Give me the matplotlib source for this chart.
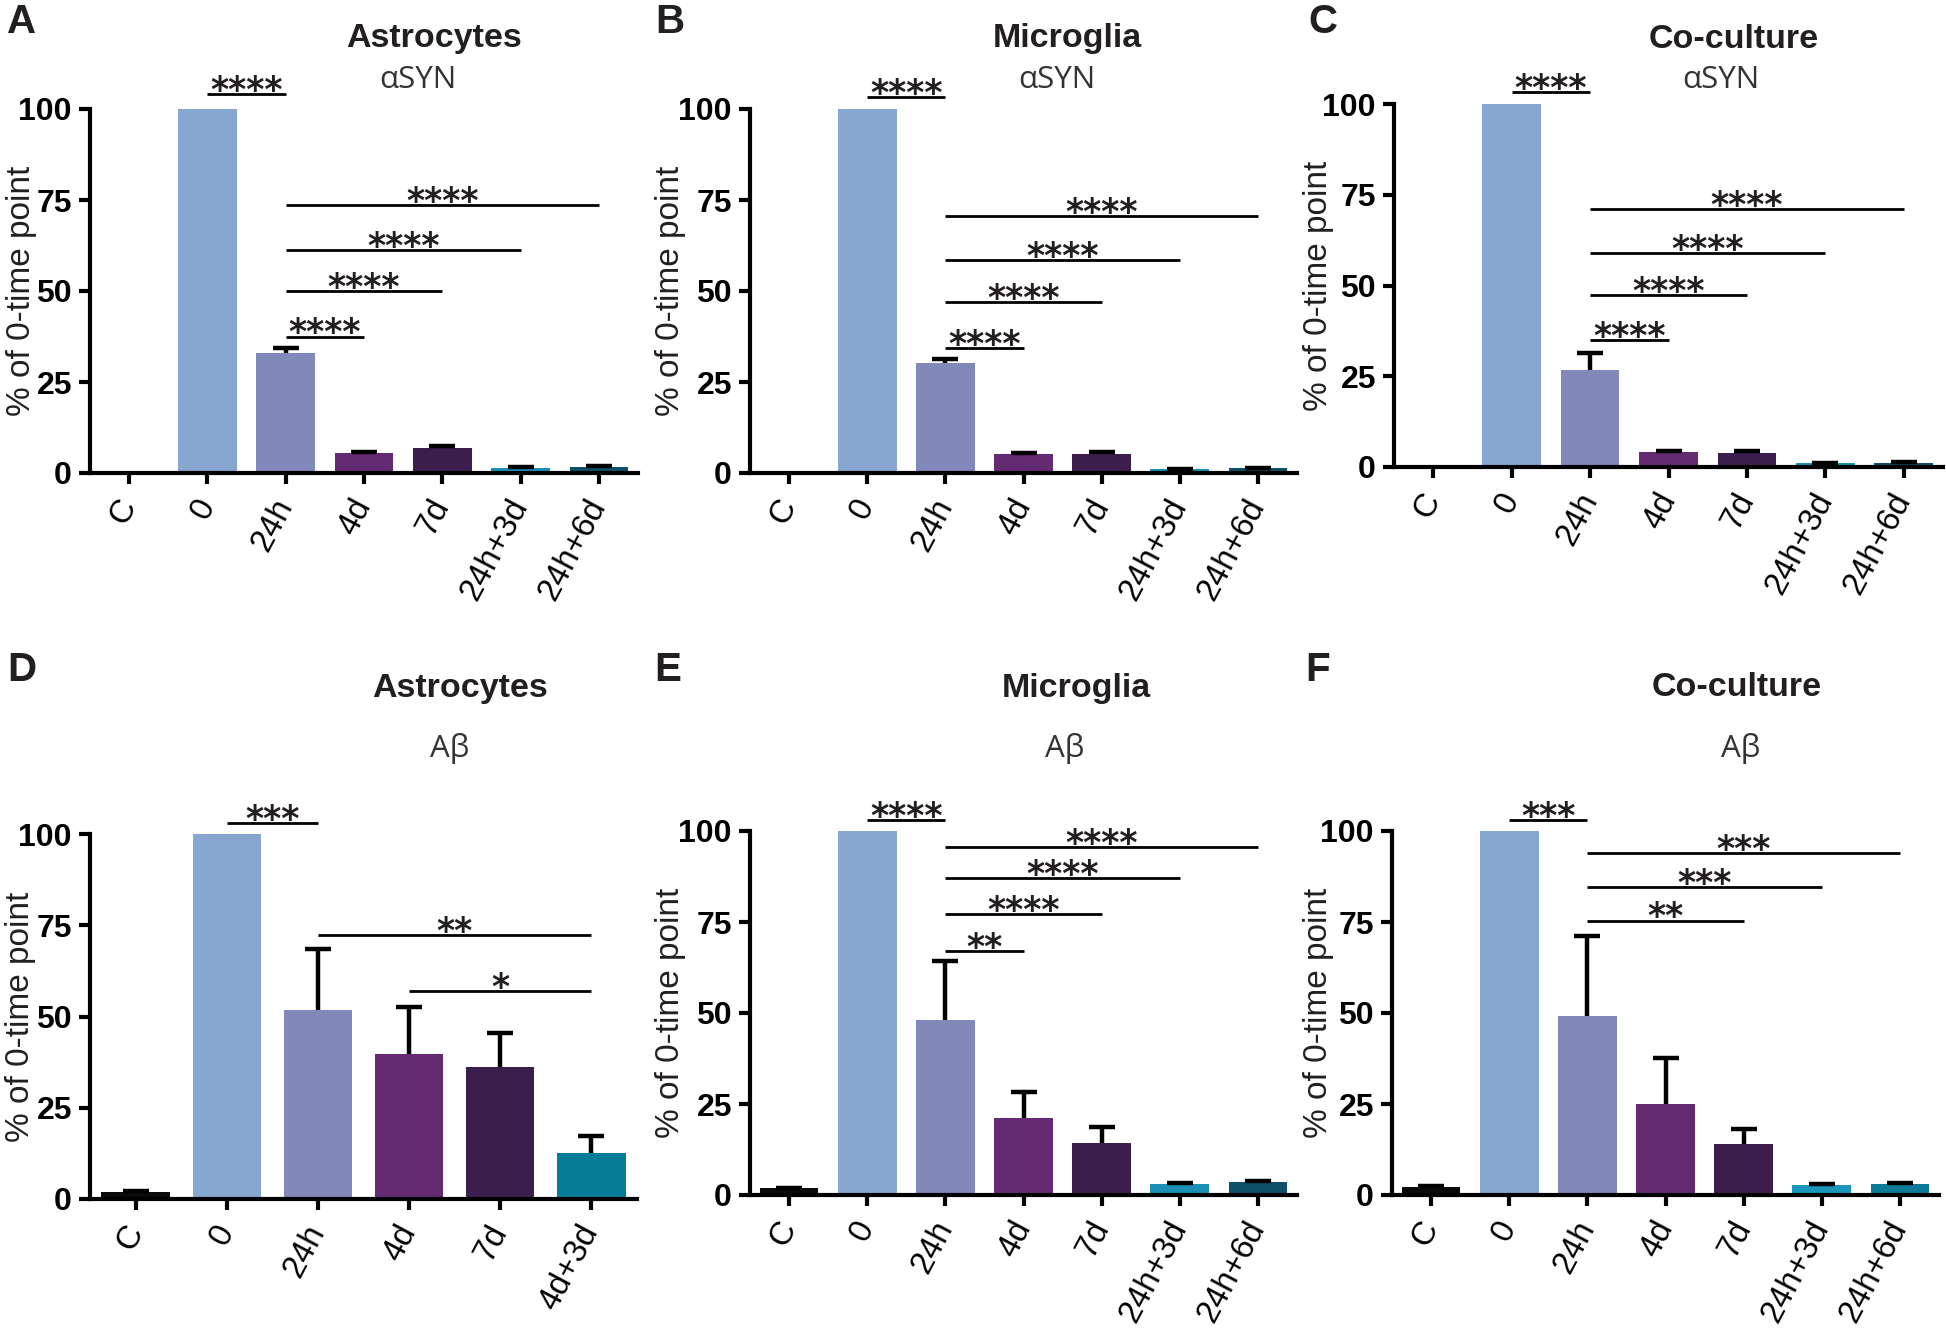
import matplotlib
matplotlib.use("Agg")
import matplotlib.pyplot as plt
import numpy as np

# ---------------- data ----------------
cats7 = ["C", "0", "24h", "4d", "7d", "24h+3d", "24h+6d"]
cats6 = ["C", "0", "24h", "4d", "7d", "4d+3d"]

A_mean = [0, 100, 33.0, 5.4, 6.8, 1.4, 1.6]
A_err = [0, 0, 1.3, 0.5, 0.6, 0.2, 0.2]
B_mean = [0, 100, 30.1, 5.1, 5.3, 1.1, 1.3]
B_err = [0, 0, 1.1, 0.3, 0.4, 0.1, 0.1]
C_mean = [0, 100, 26.8, 4.0, 3.8, 1.0, 1.2]
C_err = [0, 0, 4.6, 0.4, 0.5, 0.1, 0.1]
D_mean = [2.0, 100, 51.8, 39.8, 36.2, 12.5]
D_err = [0.3, 0, 16.6, 12.9, 9.4, 4.8]
E_mean = [1.8, 100, 48.2, 21.1, 14.3, 2.9, 3.7]
E_err = [0.2, 0, 16.0, 7.1, 4.3, 0.3, 0.2]
F_mean = [2.2, 100, 49.3, 25.0, 13.9, 2.7, 3.1]
F_err = [0.3, 0, 21.8, 12.7, 4.1, 0.2, 0.2]

# significance brackets: (from category, to category, height, label)
A_sig = [(1, 2, 104.0, "****"), (2, 3, 37.5, "****"), (2, 4, 50.0, "****"),
         (2, 5, 61.3, "****"), (2, 6, 73.5, "****")]
B_sig = [(1, 2, 103.2, "****"), (2, 3, 34.3, "****"), (2, 4, 47.0, "****"),
         (2, 5, 58.4, "****"), (2, 6, 70.5, "****")]
C_sig = [(1, 2, 103.3, "****"), (2, 3, 34.9, "****"), (2, 4, 47.5, "****"),
         (2, 5, 59.0, "****"), (2, 6, 71.0, "****")]
D_sig = [(1, 2, 102.9, "***"), (2, 5, 72.3, "**"), (3, 5, 57.1, "*")]
E_sig = [(1, 2, 103.0, "****"), (2, 3, 67.0, "**"), (2, 4, 77.1, "****"),
         (2, 5, 87.0, "****"), (2, 6, 95.6, "****")]
F_sig = [(1, 2, 103.0, "***"), (2, 4, 75.4, "**"), (2, 5, 84.7, "***"),
         (2, 6, 94.0, "***")]

cell_types = ["Astrocytes", "Microglia", "Co-culture"]
proteins = ["αSYN", "Aβ"]
panel_letters = ["A", "B", "C", "D", "E", "F"]
yticks = [0, 25, 50, 75, 100]

colors7 = ["#0a0a0a", "#87A7D0", "#8388BA", "#652B72", "#3C1E4C", "#1A91B4", "#0E5068"]
colors6 = ["#0a0a0a", "#87A7D0", "#8388BA", "#652B72", "#3C1E4C", "#057D99"]
colorsF = ["#0a0a0a", "#87A7D0", "#8388BA", "#652B72", "#3C1E4C", "#1A96BA", "#0E7A99"]

# ---------------- layout ----------------
W, H = 1946, 1330
plt.rcParams["font.family"] = ["Liberation Sans", "DejaVu Sans"]
fig = plt.figure(figsize=(W / 100, H / 100), dpi=100)

# (left, right, top(100), bottom(0)) in pixels
boxes = [(90, 638, 109, 473), (750, 1297, 109, 473), (1394, 1943, 104, 467),
         (90, 637, 834, 1199), (750, 1297, 831, 1195), (1392, 1939, 831, 1195)]
ylabel_x = [22, 671, 1319, 21, 671, 1318]
title_pos = [(434, 39), (1067, 39), (1734, 39), (460, 688), (1076, 688), (1737, 688)]
sub_pos = [(418, 80), (1057, 80), (1721, 80), (450, 748), (1065, 748), (1741, 748)]
letter_pos = [(22, 22), (670, 22), (1323, 22), (22, 670), (668, 670), (1318, 670)]

panels = [
    (cats7, A_mean, A_err, A_sig, colors7),
    (cats7, B_mean, B_err, B_sig, colors7),
    (cats7, C_mean, C_err, C_sig, colors7),
    (cats6, D_mean, D_err, D_sig, colors6),
    (cats7, E_mean, E_err, E_sig, colors7),
    (cats7, F_mean, F_err, F_sig, colorsF),
]

txt_col = "#231F20"

for i, (cats, mean, err, sig, cols) in enumerate(panels):
    l, r, t, b = boxes[i]
    ax = fig.add_axes([l / W, 1 - b / H, (r - l) / W, (b - t) / H])
    n = len(cats)
    x = np.arange(n)
    ax.bar(x, mean, width=0.75, color=cols, edgecolor="none", zorder=2)
    mean_a = np.array(mean, dtype=float)
    err_a = np.array(err, dtype=float)
    m = err_a > 0
    # one-sided (upper) error bars, Prism style
    px_per_unit = (r - l) / n
    capw = 13.0 / px_per_unit
    ax.vlines(x[m], mean_a[m], mean_a[m] + err_a[m], color="black", lw=3.2, zorder=3)
    ax.hlines(mean_a[m] + err_a[m], x[m] - capw, x[m] + capw, color="black", lw=3.2,
              zorder=3)
    ax.set_xlim(-0.5, n - 0.5)
    ax.set_ylim(0, 100)
    for s in ["top", "right"]:
        ax.spines[s].set_visible(False)
    for s in ["left", "bottom"]:
        ax.spines[s].set_linewidth(3)
        ax.spines[s].set_capstyle("projecting")
    ax.set_yticks(yticks)
    ax.set_yticklabels([str(v) for v in yticks], fontsize=23, fontweight="bold")
    ax.set_xticks(x)
    ax.set_xticklabels(cats, fontsize=23.5, rotation=62, ha="right", va="center",
                       rotation_mode="anchor")
    ax.tick_params(axis="both", width=3, length=8, color="black")
    ax.tick_params(axis="y", pad=5)
    ax.tick_params(axis="x", pad=12)
    ax.set_ylabel("% of 0-time point", fontsize=24, color=txt_col)
    ax.yaxis.label.set_va("center")
    ax.yaxis.set_label_coords((ylabel_x[i] - l) / (r - l), 0.5)

    for (x1, x2, yy, lab) in sig:
        ax.plot([x1, x2], [yy, yy], color="black", lw=2.0, clip_on=False, zorder=4,
                solid_capstyle="butt")
        ax.annotate(lab, xy=((x1 + x2) / 2, yy), xytext=(0, -5),
                    textcoords="offset points", ha="center", va="baseline",
                    fontsize=25, fontweight="bold", color=txt_col,
                    annotation_clip=False, family=["DejaVu Sans"])

    tx, ty = title_pos[i]
    fig.text(tx / W, 1 - ty / H, cell_types[i % 3], fontsize=24.5, fontweight="bold",
             ha="center", va="center", color=txt_col)
    sx, sy = sub_pos[i]
    fig.text(sx / W, 1 - sy / H, proteins[i // 3], fontsize=22.5, ha="center",
             va="center", color="#333333", family=["Open Sans", "DejaVu Sans"])
    lx, ly = letter_pos[i]
    fig.text(lx / W, 1 - ly / H, panel_letters[i], fontsize=29, fontweight="bold",
             ha="center", va="center", color=txt_col)

fig.savefig("out.png", dpi=100)
